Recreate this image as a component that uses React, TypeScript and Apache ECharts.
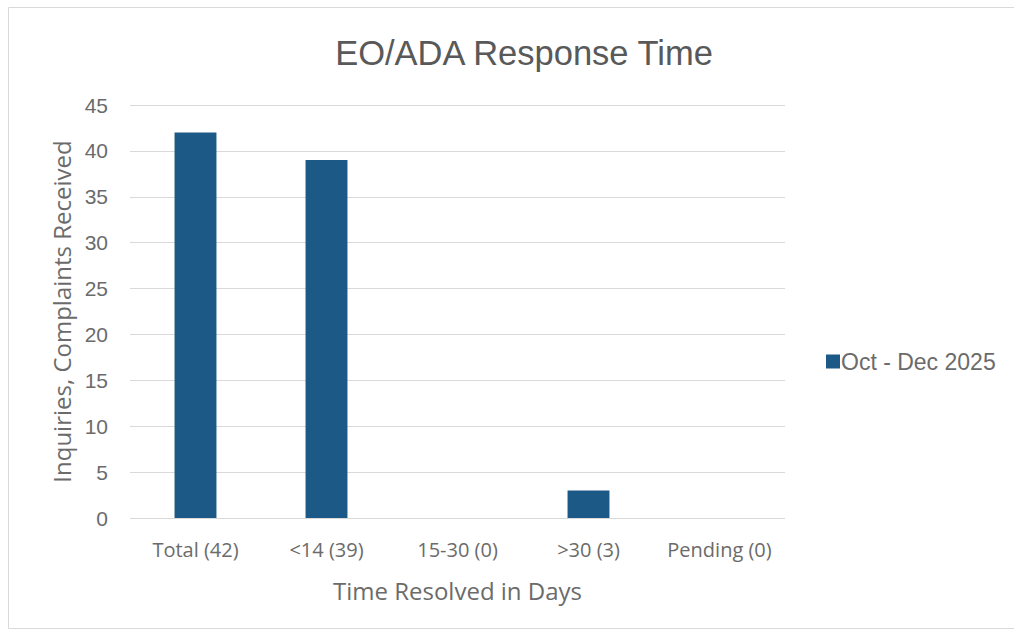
import React, { useEffect, useRef } from "react";
import * as echarts from "echarts";

const categories = ["Total (42)", "<14 (39)", "15-30 (0)", ">30 (3)", "Pending (0)"];
const seriesName = "Oct - Dec 2025";
const values = [42, 39, 0, 3, 0];
const yMin = 0;
const yMax = 45;
const yStep = 5;

export default function App() {
  const ref = useRef<HTMLDivElement>(null);

  useEffect(() => {
    document.body.style.margin = "0";
    const chart = echarts.init(ref.current!, null, { renderer: "svg" });
    chart.setOption({
      animation: false,
      backgroundColor: "#ffffff",
      title: {
        text: "EO/ADA Response Time",
        left: 519,
        top: 30,
        textAlign: "center",
        textStyle: {
          fontFamily: "Liberation Sans",
          fontSize: 34.5,
          fontWeight: "normal",
          color: "#595959",
        },
      },
      legend: {
        left: 821,
        top: 345,
        icon: "rect",
        itemWidth: 14,
        itemHeight: 14,
        itemGap: 4,
        textStyle: {
          fontFamily: "Liberation Sans",
          fontSize: 23,
          color: "#6b6b6b",
          padding: [0, 0, 0, -4],
        },
        data: [seriesName],
      },
      grid: { left: 130, right: 229, top: 105, bottom: 115, containLabel: false },
      xAxis: {
        type: "category",
        data: categories,
        name: "Time Resolved in Days",
        nameLocation: "middle",
        nameGap: 60,
        nameTextStyle: { fontFamily: "Open Sans", fontSize: 24, color: "#6b6b6b" },
        axisLine: { show: false },
        axisTick: { show: false },
        axisLabel: {
          interval: 0,
          hideOverlap: false,
          margin: 21,
          fontFamily: "Open Sans",
          fontSize: 20,
          color: "#6b6b6b",
        },
      },
      yAxis: {
        type: "value",
        min: yMin,
        max: yMax,
        interval: yStep,
        name: "Inquiries, Complaints Received",
        nameLocation: "middle",
        nameGap: 56,
        nameTextStyle: { fontFamily: "Open Sans", fontSize: 24, color: "#6b6b6b" },
        axisLine: { show: false },
        axisTick: { show: false },
        axisLabel: {
          margin: 22,
          fontFamily: "Liberation Sans",
          fontSize: 21,
          color: "#6b6b6b",
        },
        splitLine: { lineStyle: { color: "#d9d9d9", width: 1 } },
      },
      series: [
        {
          name: seriesName,
          type: "bar",
          data: values,
          barWidth: "32%",
          itemStyle: { color: "#1d5986" },
        },
      ],
      graphic: [
        {
          type: "rect",
          shape: { x: 8.5, y: 7.5, width: 1010, height: 621 },
          style: { fill: "none", stroke: "#d9d9d9", lineWidth: 1 },
          silent: true,
        },
      ],
    });
    return () => chart.dispose();
  }, []);

  return <div ref={ref} style={{ width: 1014, height: 633 }} />;
}
